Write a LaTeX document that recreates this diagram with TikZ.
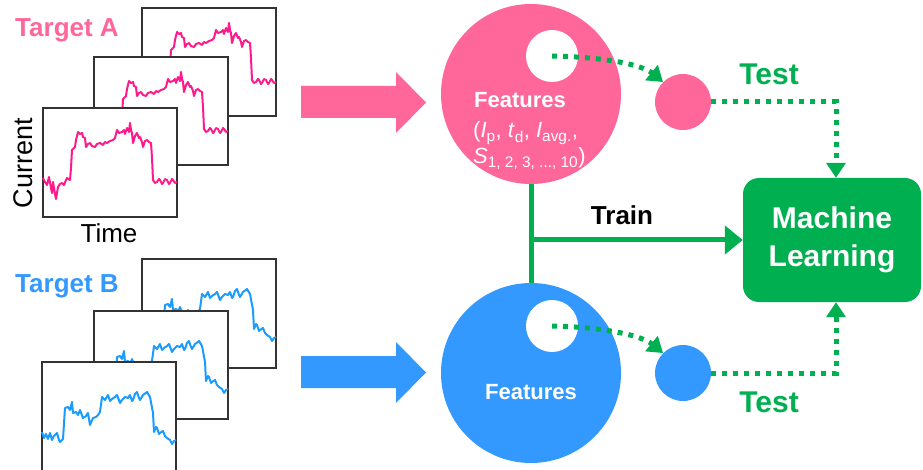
\documentclass[tikz,border=0pt]{standalone}
\usepackage{fontspec}
\setmainfont{Liberation Sans}
\usetikzlibrary{arrows.meta}
\definecolor{pk}{HTML}{FF6699}
\definecolor{bl}{HTML}{3399FF}
\definecolor{pkc}{HTML}{FF1A8C}
\definecolor{blc}{HTML}{1A9CFF}
\definecolor{grn}{HTML}{00B050}
\newcommand{\fs}[1]{\fontsize{#1}{#1}\selectfont}
\begin{document}
\begin{tikzpicture}[x=1pt,y=-1pt,
  frame/.style={draw=black!80, line width=1.4pt, fill=white},
  wave/.style={line width=2pt, line join=round},
  dotg/.style={draw=grn, line width=5pt, dash pattern=on 5pt off 6pt},
  dotarr/.style={dotg, -{Triangle[length=15pt,width=19pt]}},
  bigc/.style={circle, inner sep=0pt, minimum size=180pt},
  smallc/.style={circle, inner sep=0pt, minimum size=56pt},
  holec/.style={circle, inner sep=0pt, minimum size=52pt, fill=white},
  lbl/.style={font=\bfseries\fs{26}},
  ftxt/.style={text=white, font=\fs{22}, anchor=base west, inner sep=0pt}
]
\path[use as bounding box] (0,0) rectangle (923,470);

% ---------- Target A plots ----------
\foreach \px/\py/\h in {142/8/108, 94/57/108, 43/108/109}{
  \draw[frame] (\px,\py) rectangle ++(134,\h);
  \draw[wave, pkc, shift={(\px,\py)}] plot coordinates {
   (0,70) (2,74) (4,77) (6,69) (8,80) (9,85) (10,74) (12,86) (13,91) (15,79) (17,76)
   (19,75) (21,77) (23,72) (24,70) (27,72) (28,60) (29,42) (32,39) (33,32) (35,24)
   (37,26) (39,25) (40,29) (42,30) (43,39) (45,36) (47,35) (49,38) (52,39) (54,36)
   (57,35) (60,37) (62,34) (64,35) (67,33) (70,32) (72,30) (74,22) (76,25) (79,24)
   (81,22) (82,26) (84,20) (86,24) (87,15) (88,22) (89,25) (90,35) (92,28) (94,25)
   (96,30) (97,29) (99,34) (100,39) (102,33) (104,32) (106,34) (108,35) (109,50)
   (110,72) (112,75) (114,74) (116,71) (117,72) (119,76) (120,75) (122,71) (124,72)
   (126,76) (127,75) (129,71) (130,72) (132,75) (134,74)};
}
\node[lbl, text=pk, anchor=base] (tA) at (67,37) {Target A};
\node[font=\fs{27}, rotate=90, anchor=base] (cur) at (32,163) {Current};
\node[font=\fs{26}, anchor=base] (time) at (109,243) {Time};

% ---------- Target B plots ----------
\foreach \px/\py/\h in {142/259/109, 94/311/108, 42/362/111}{
  \draw[frame] (\px,\py) rectangle ++(134,\h);
  \draw[wave, blc, shift={(\px,\py)}] plot coordinates {
   (0,70) (2,76) (4,72) (6,77) (8,71) (10,78) (12,74) (15,71) (17,78) (18,80) (21,77)
   (23,46) (26,45) (28,48) (30,40) (31,51) (34,50) (36,53) (38,48) (41,56) (44,54)
   (46,51) (48,63) (51,56) (54,55) (56,53) (58,50) (60,35) (63,38) (66,33) (68,39)
   (70,37) (73,35) (75,33) (78,41) (80,38) (83,35) (86,36) (88,33) (90,39) (91,38)
   (93,32) (95,30) (97,36) (98,38) (101,33) (105,30) (108,35) (111,51) (112,70)
   (114,65) (115,66) (117,72) (118,71) (121,69) (123,74) (125,76) (128,78) (130,82)
   (132,79) (134,78)};
}
\node[lbl, text=bl, anchor=base] (tB) at (67,292) {Target B};

% ---------- block arrows ----------
\fill[pk] (301,86) -- (396,86) -- (396,72) -- (426,102.5) -- (396,133) -- (396,118) -- (301,118) -- cycle;
\fill[bl] (301,356) -- (396,356) -- (396,342) -- (426,372.5) -- (396,403) -- (396,388) -- (301,388) -- cycle;

% ---------- circles ----------
\node[bigc, fill=pk] (fA) at (531,94) {};
\node[bigc, fill=bl] (fB) at (531,373) {};
\node[holec] (hA) at (552,56) {};
\node[holec] (hB) at (552,326) {};
\node[smallc, fill=pk] (sA) at (683,102) {};
\node[smallc, fill=bl] (sB) at (683,373) {};

\node[text=white, font=\bfseries\fs{22}, anchor=base] (featA) at (520,108) {Features};
\node[ftxt] (formA1) at (473,138) {(\textit{I}\textsubscript{p}, \textit{t}\textsubscript{d}, \textit{I}\textsubscript{avg.},};
\node[ftxt] (formA2) at (473,164) {\textit{S}\textsubscript{1, 2, 3, ..., 10})};
\node[text=white, font=\bfseries\fs{22}, anchor=base] (featB) at (531,399) {Features};

% ---------- machine learning box ----------
\node[fill=grn, rounded corners=16pt, minimum width=178pt, minimum height=124pt,
      text=white, font=\bfseries\fs{30}, align=center, inner sep=0pt] (ml) at (832,240)
      {Machine\\[8pt]Learning};

% ---------- connectors ----------
\draw[dotarr] (hA.center) .. controls +(50,1) and +(-22,-18) .. (sA.135);
\draw[dotarr] (hB.center) .. controls +(50,1) and +(-22,-18) .. (sB.135);
\draw[dotarr] (sA.east) -| ([xshift=4pt]ml.north);
\draw[dotarr] (sB.east) -| ([xshift=4pt]ml.south);

\coordinate (j) at (fA.south |- ml.west);
\draw[grn, line width=5pt] (fA.south) -- (fB.north);
\draw[grn, line width=5pt, -{Triangle[length=18pt,width=28pt]}] (j) -- (ml.west);

\node[lbl, text=black, anchor=base] (train) at (622,225) {Train};
\node[font=\bfseries\fs{30}, text=grn, anchor=base] (testA) at (769,85) {Test};
\node[font=\bfseries\fs{30}, text=grn, anchor=base] (testB) at (769,412) {Test};
\end{tikzpicture}
\end{document}
